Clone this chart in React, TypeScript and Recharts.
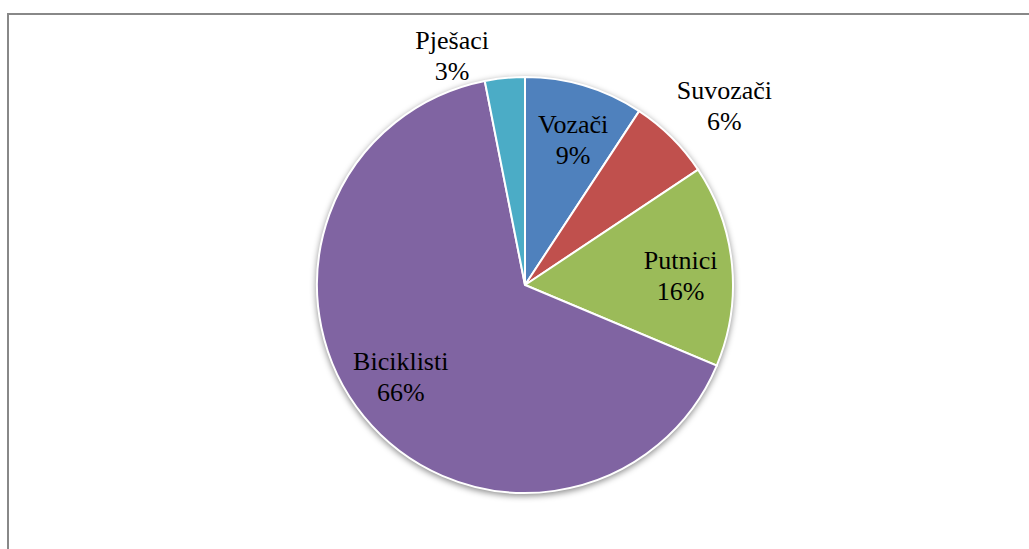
import React from "react";
import { PieChart, Pie, Cell } from "recharts";

const categories = ["Vozači", "Suvozači", "Putnici", "Biciklisti", "Pješaci"];
const shares = [9.25, 6.4, 15.7, 65.6, 3.1];
const colors = ["#4F81BD", "#C0504D", "#9BBB59", "#8064A2", "#4BACC6"];

const data = categories.map((name, i) => ({ name, value: shares[i] }));
const shadowData = [{ name: "shadow", value: 1 }];

// label placement: radius factor and angle tweak (degrees, counter-clockwise)
const labelPlacement: Record<string, { r: number; a: number }> = {
  "Vozači": { r: 0.74, a: -1.6 },
  "Suvozači": { r: 1.29, a: -3.2 },
  "Putnici": { r: 0.75, a: -1.7 },
  "Biciklisti": { r: 0.74, a: -3 },
  "Pješaci": { r: 1.16, a: 12 },
};

const RAD = Math.PI / 180;
const SERIF = "'Liberation Serif', 'Times New Roman', serif";

const renderLabel = (props: any) => {
  const { cx, cy, midAngle, outerRadius, percent, name } = props;
  const p = labelPlacement[name] || { r: 0.74, a: 0 };
  const ang = (midAngle + p.a) * RAD;
  const x = cx + outerRadius * p.r * Math.cos(-ang);
  const y = cy + outerRadius * p.r * Math.sin(-ang);
  return (
    <text
      x={x}
      y={y}
      textAnchor="middle"
      style={{ fontFamily: SERIF, fontSize: 26, fill: "#000" }}
    >
      <tspan x={x} y={y - 6} style={{ fontFamily: SERIF }}>{name}</tspan>
      <tspan x={x} y={y + 25} style={{ fontFamily: SERIF }}>{`${Math.round(percent * 100)}%`}</tspan>
    </text>
  );
};

export default function App() {
  return (
    <div
      style={{
        position: "absolute",
        left: 0,
        top: 0,
        width: 1029,
        height: 549,
        overflow: "hidden",
        background: "#fff",
      }}
    >
      <div
        style={{
          position: "absolute",
          left: 7,
          top: 13,
          width: 1060,
          height: 580,
          border: "2px solid #888",
          boxSizing: "border-box",
        }}
      />
      <div style={{ position: "absolute", left: 0, top: 2, filter: "blur(3px)" }}>
        <PieChart width={1029} height={549} margin={{ top: 0, right: 0, bottom: 0, left: 0 }}>
          <Pie
            data={shadowData}
            dataKey="value"
            cx={525}
            cy={285}
            outerRadius={209}
            fill="rgba(0,0,0,0.45)"
            stroke="none"
            isAnimationActive={false}
          />
        </PieChart>
      </div>
      <div style={{ position: "absolute", left: 0, top: 0 }}>
        <PieChart width={1029} height={549} margin={{ top: 0, right: 0, bottom: 0, left: 0 }}>
          <Pie
            data={data}
            dataKey="value"
            nameKey="name"
            cx={525}
            cy={285}
            outerRadius={208}
            startAngle={90}
            endAngle={-270}
            stroke="#fff"
            strokeWidth={2}
            label={renderLabel}
            labelLine={false}
            isAnimationActive={false}
          >
            {data.map((d, i) => (
              <Cell key={d.name} fill={colors[i]} />
            ))}
          </Pie>
        </PieChart>
      </div>
    </div>
  );
}
